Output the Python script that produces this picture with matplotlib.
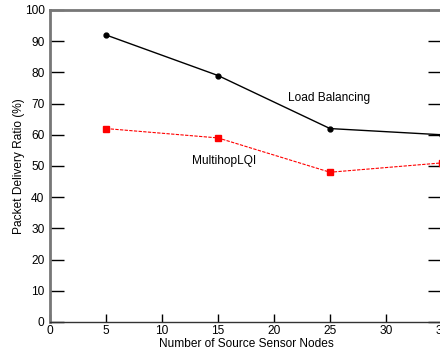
import matplotlib
matplotlib.use("Agg")
import matplotlib.pyplot as plt

# data
nodes = [5, 15, 25, 35]
load_balancing = [92, 79, 62, 60]
multihop_lqi = [62, 59, 48, 51]
x_ticks = [0, 5, 10, 15, 20, 25, 30, 35]
y_ticks = [0, 10, 20, 30, 40, 50, 60, 70, 80, 90, 100]

plt.rcParams["font.family"] = ["Liberation Sans", "DejaVu Sans"]
fs = 8.6

fig = plt.figure(figsize=(4.40, 3.49), dpi=100)
# right edge of the axes lies just outside the picture, as in the reference
ax = fig.add_axes([50 / 440, 1 - 322 / 349, 392 / 440, 312 / 349])

ax.plot(nodes, load_balancing, "k-", marker="o", markersize=3.5, linewidth=1)
ax.plot(nodes, multihop_lqi, color="red", linestyle="--", dashes=(3, 1.2),
        marker="s", markersize=4.5, linewidth=0.8)

ax.set_xlim(0, 35)
ax.set_ylim(0, 100)
ax.set_xticks(x_ticks)
ax.set_yticks(y_ticks)
ax.tick_params(axis="both", direction="in", labelsize=fs, width=1, color="black")
ax.tick_params(axis="y", length=10, right=True, pad=4)
ax.tick_params(axis="x", length=6, pad=2)

for side in ["left", "top"]:
    ax.spines[side].set_color("#777777")
    ax.spines[side].set_linewidth(2)
ax.spines["bottom"].set_color("#333333")
ax.spines["bottom"].set_linewidth(1)
ax.spines["right"].set_color("#777777")

ax.set_xlabel("Number of Source Sensor Nodes", fontsize=fs, labelpad=1)
ax.set_ylabel("Packet Delivery Ratio (%)", fontsize=fs, labelpad=-0.5)

ax.text(21.25, 71.8, "Load Balancing", fontsize=fs, va="center")
ax.text(12.7, 51.6, "MultihopLQI", fontsize=fs, va="center")

fig.savefig("out.png", dpi=100)
